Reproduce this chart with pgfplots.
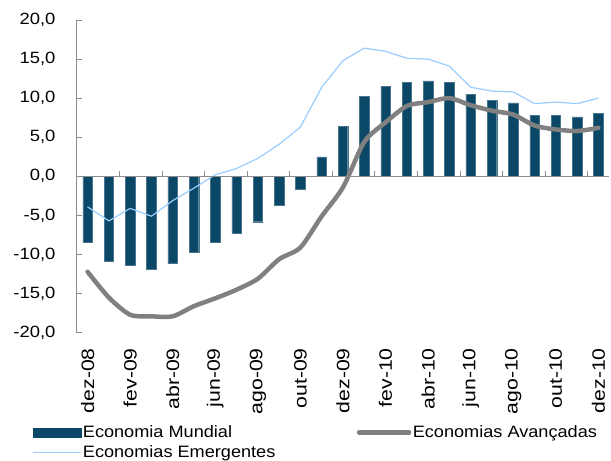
\documentclass[border=0pt]{standalone}
\usepackage{fontspec}
\setmainfont{Liberation Sans}
\newfontfamily\ytickfont[FakeStretch=1.13]{Liberation Sans}
\newfontfamily\xtickfont[FakeStretch=1.18]{Liberation Sans}
\newfontfamily\legfont[FakeStretch=1.1]{Liberation Sans}
\usepackage{pgfplots}
\usepackage{pgfplotstable}
\pgfplotsset{compat=1.18}

\definecolor{mundial}{HTML}{0B4868}
\definecolor{avanc}{HTML}{808080}
\definecolor{emerg}{HTML}{99CCFF}
\definecolor{axgray}{HTML}{8C8C8C}

% x: dez-08 = 0 ... dez-10 = 24
\pgfplotstableread{
x  mundial avanc emerg
0  -8.4  -12.2 -3.9
1  -10.9 -15.5 -5.7
2  -11.4 -17.7 -4.1
3  -11.9 -17.9 -5.1
4  -11.1 -17.9 -3.1
5  -9.7  -16.6 -1.5
6  -8.4  -15.6  0.2
7  -7.3  -14.5  1.0
8  -5.8  -13.1  2.3
9  -3.7  -10.6  4.1
10 -1.7  -9.1   6.3
11  2.5  -5.1  11.4
12  6.4  -1.4  14.8
13 10.2   4.4  16.4
14 11.5   6.9  16.0
15 12.0   9.0  15.1
16 12.2   9.5  15.0
17 12.0  10.0  14.1
18 10.5   9.1  11.4
19  9.7   8.4  10.9
20  9.4   7.9  10.8
21  7.8   6.5   9.3
22  7.8   6.0   9.5
23  7.6   5.8   9.3
24  8.1   6.2  10.0
}\datatab

\begin{document}
\begin{tikzpicture}
\begin{axis}[
    name=main,
    scale only axis,
    width=532.5pt, height=313pt,
    xmin=-0.5, xmax=24.5,
    ymin=-20, ymax=20,
    axis y line=left,
    axis x line=bottom,
    x axis line style={draw=none},
    y axis line style={-, draw=axgray, line width=0.9pt},
    ytick={-20,-15,...,20},
    y tick style={draw=axgray, line width=0.9pt},
    major tick length=5pt,
    tick align=inside,
    xtick={0,2,...,24},
    xticklabels={dez-08,fev-09,abr-09,jun-09,ago-09,out-09,dez-09,fev-10,abr-10,jun-10,ago-10,out-10,dez-10},
    x tick style={draw=none},
    xticklabel style={rotate=90, anchor=east, font=\xtickfont\fontsize{18}{20}\selectfont, xshift=-12pt},
    yticklabel style={font=\ytickfont\fontsize{16.3}{18}\selectfont, xshift=-18pt},
    /pgf/number format/.cd, fixed, fixed zerofill, precision=1, use comma, assume math mode=true,
    /pgfplots/.cd,
    legend columns=2,
    legend cell align=left,
    legend style={at={(axis description cs:-0.09,-0.285)}, anchor=north west,
        draw=none, fill=none, font=\legfont\fontsize{16.5}{18}\selectfont,
        /tikz/every even column/.append style={column sep=80pt},
        row sep=4pt,
        nodes={inner sep=1.5pt}},
]
\addplot[ybar, bar width=9.5pt, fill=mundial, draw=mundial!75!white, line width=0.4pt,
    legend image code/.code={\fill[mundial] (0pt,-4.5pt) rectangle (48pt,4.5pt);}]
    table[x=x, y=mundial] {\datatab};
\addlegendentry{Economia Mundial}
\addplot[avanc, line width=4.5pt, smooth, tension=0.45, line cap=round, line join=round,
    legend image code/.code={\draw[avanc, line width=4.5pt] (0pt,0pt) -- (50pt,0pt);}]
    table[x=x, y=avanc] {\datatab};
\addlegendentry{Economias Avançadas}
\addplot[emerg, line width=1.2pt, line join=round,
    legend image code/.code={\draw[emerg, line width=1.2pt] (0pt,0pt) -- (48pt,0pt);}]
    table[x=x, y=emerg] {\datatab};
\addlegendentry{Economias Emergentes}
\end{axis}
\begin{axis}[
    scale only axis,
    width=532.5pt, height=313pt,
    xmin=-0.5, xmax=24.5,
    ymin=-20, ymax=20,
    axis x line=middle,
    axis y line=none,
    x axis line style={-, draw=axgray, line width=0.9pt},
    xtick={1.5,3.5,...,23.5},
    xticklabels={},
    x tick style={draw=axgray, line width=0.9pt},
    major tick length=5pt,
    tick align=inside,
]
\end{axis}
\pgfresetboundingbox
\path ([shift={(-77pt,-128pt)}]main.south west) rectangle ([shift={(2pt,20pt)}]main.north east);
\end{tikzpicture}
\end{document}
